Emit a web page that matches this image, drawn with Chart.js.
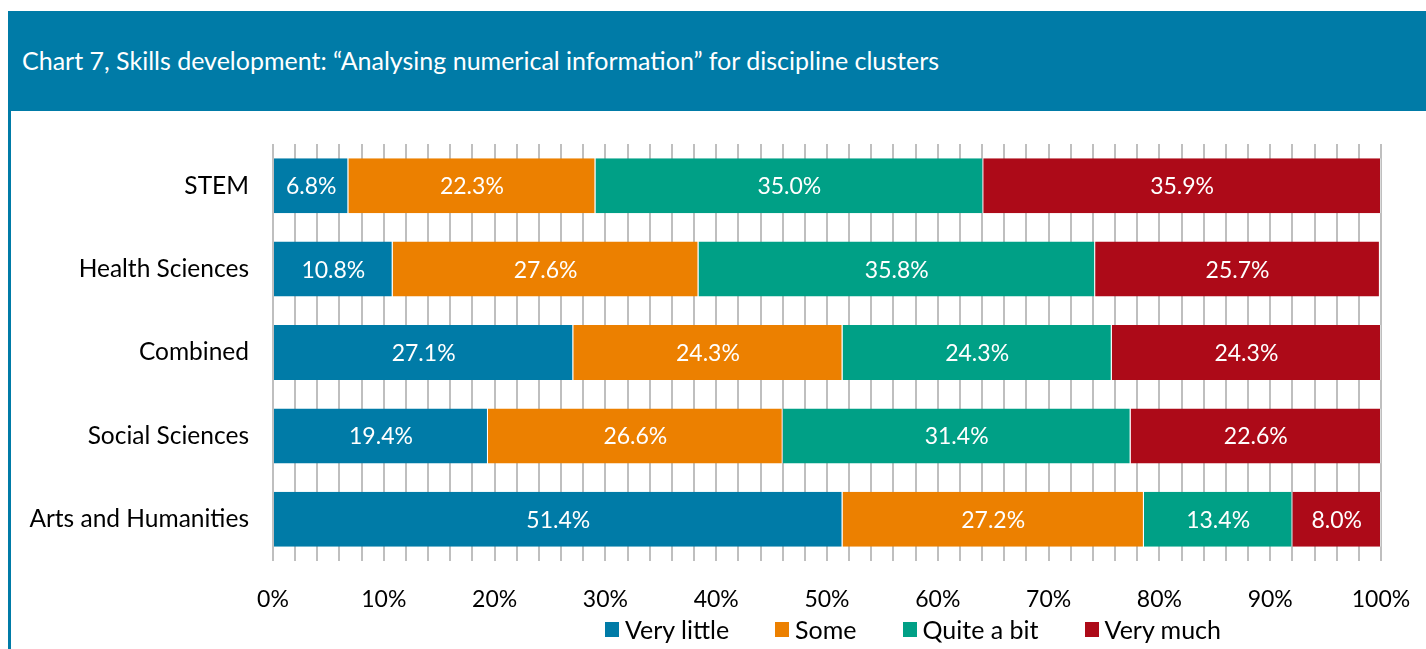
<!DOCTYPE html>
<html>
<head>
<meta charset="utf-8">
<script src="https://cdn.jsdelivr.net/npm/chart.js@4.4.0/dist/chart.umd.min.js"></script>
<style>
  html,body{margin:0;padding:0;background:#fff;}
  body{width:1426px;height:649px;position:relative;overflow:hidden;font-family:Lato,"Open Sans",sans-serif;}
  #hdr{position:absolute;left:8px;top:11px;width:1418px;height:100px;background:#007ba7;}
  #hdr span{position:absolute;left:14px;top:34px;color:#fff;font-size:25px;line-height:30px;white-space:nowrap;}
  #lb{position:absolute;left:8px;top:111px;width:3px;height:538px;background:#007ba7;}
  #wrap{position:absolute;left:11px;top:111px;width:1415px;height:538px;}
  #legend{position:absolute;left:0;top:614px;width:1826px;display:flex;justify-content:center;font-size:25px;line-height:30px;color:#000;}
  .li{display:flex;align-items:center;margin:0 23px;}
  .sw{width:14px;height:15px;margin-right:6px;}
</style>
</head>
<body>
<div id="hdr"><span>Chart 7, Skills development: “Analysing numerical information” for discipline clusters</span></div>
<div id="lb"></div>
<div id="wrap"><canvas id="c" width="1415" height="538"></canvas></div>
<div id="legend"></div>
<script>
const categories = ["STEM", "Health Sciences", "Combined", "Social Sciences", "Arts and Humanities"];
const seriesNames = ["Very little", "Some", "Quite a bit", "Very much"];
const veryLittle = [6.8, 10.8, 27.1, 19.4, 51.4];
const some       = [22.3, 27.6, 24.3, 26.6, 27.2];
const quiteABit  = [35.0, 35.8, 24.3, 31.4, 13.4];
const veryMuch   = [35.9, 25.7, 24.3, 22.6, 8.0];
const tickLabels = ["0%","10%","20%","30%","40%","50%","60%","70%","80%","90%","100%"];
const colors = ["#007ba7", "#ec8000", "#00a086", "#ad0a18"];
const values = [veryLittle, some, quiteABit, veryMuch];

const FONT = 'Lato, "Open Sans", sans-serif';

const labelPlugin = {
  id: 'segLabels',
  afterDatasetsDraw(chart) {
    const ctx = chart.ctx;
    ctx.save();
    ctx.font = '23px ' + FONT;
    ctx.fillStyle = '#fff';
    ctx.textAlign = 'center';
    ctx.textBaseline = 'middle';
    chart.data.datasets.forEach((ds, i) => {
      const meta = chart.getDatasetMeta(i);
      meta.data.forEach((el, j) => {
        const v = ds.data[j];
        const x = (el.x + el.base) / 2;
        ctx.fillText(v.toFixed(1) + '%', x, el.y + 1);
      });
    });
    ctx.restore();
  }
};

const chart = new Chart(document.getElementById('c'), {
  type: 'bar',
  data: {
    labels: categories,
    datasets: seriesNames.map((n, i) => ({
      label: n,
      data: values[i],
      backgroundColor: colors[i],
      borderColor: 'rgba(255,255,255,0.45)',
      borderWidth: { top: 0, bottom: 0, left: 0, right: 1 },
      borderSkipped: false,
      barPercentage: 0.66,
      categoryPercentage: 1.0
    }))
  },
  options: {
    indexAxis: 'y',
    responsive: false,
    animation: false,
    devicePixelRatio: 1,
    layout: { padding: { top: 33, right: 45, left: 0, bottom: 0 } },
    plugins: { legend: { display: false }, tooltip: { enabled: false } },
    scales: {
      x: {
        stacked: true,
        min: 0, max: 100,
        afterFit(s) { s.height = 88; s.paddingLeft = 0; s.paddingRight = 0; },
        ticks: {
          stepSize: 2,
          autoSkip: false,
          maxRotation: 0,
          padding: 25,
          color: '#000',
          font: { family: FONT, size: 23 },
          callback(v) { return v % 10 === 0 ? tickLabels[v / 10] : ''; }
        },
        grid: { color: '#bfbfbf', lineWidth: 2, drawTicks: false },
        border: { display: false }
      },
      y: {
        stacked: true,
        afterFit(s) { s.width = 262; s.paddingTop = 0; s.paddingBottom = 0; },
        ticks: { padding: 24, color: '#000', font: { family: FONT, size: 24.5 } },
        grid: { display: false, drawTicks: false },
        border: { display: false }
      }
    }
  },
  plugins: [labelPlugin]
});

const lg = document.getElementById('legend');
seriesNames.forEach((n, i) => {
  const d = document.createElement('div');
  d.className = 'li';
  const sw = document.createElement('span');
  sw.className = 'sw';
  sw.style.background = colors[i];
  const t = document.createElement('span');
  t.textContent = n;
  d.appendChild(sw); d.appendChild(t);
  lg.appendChild(d);
});
</script>
</body>
</html>
